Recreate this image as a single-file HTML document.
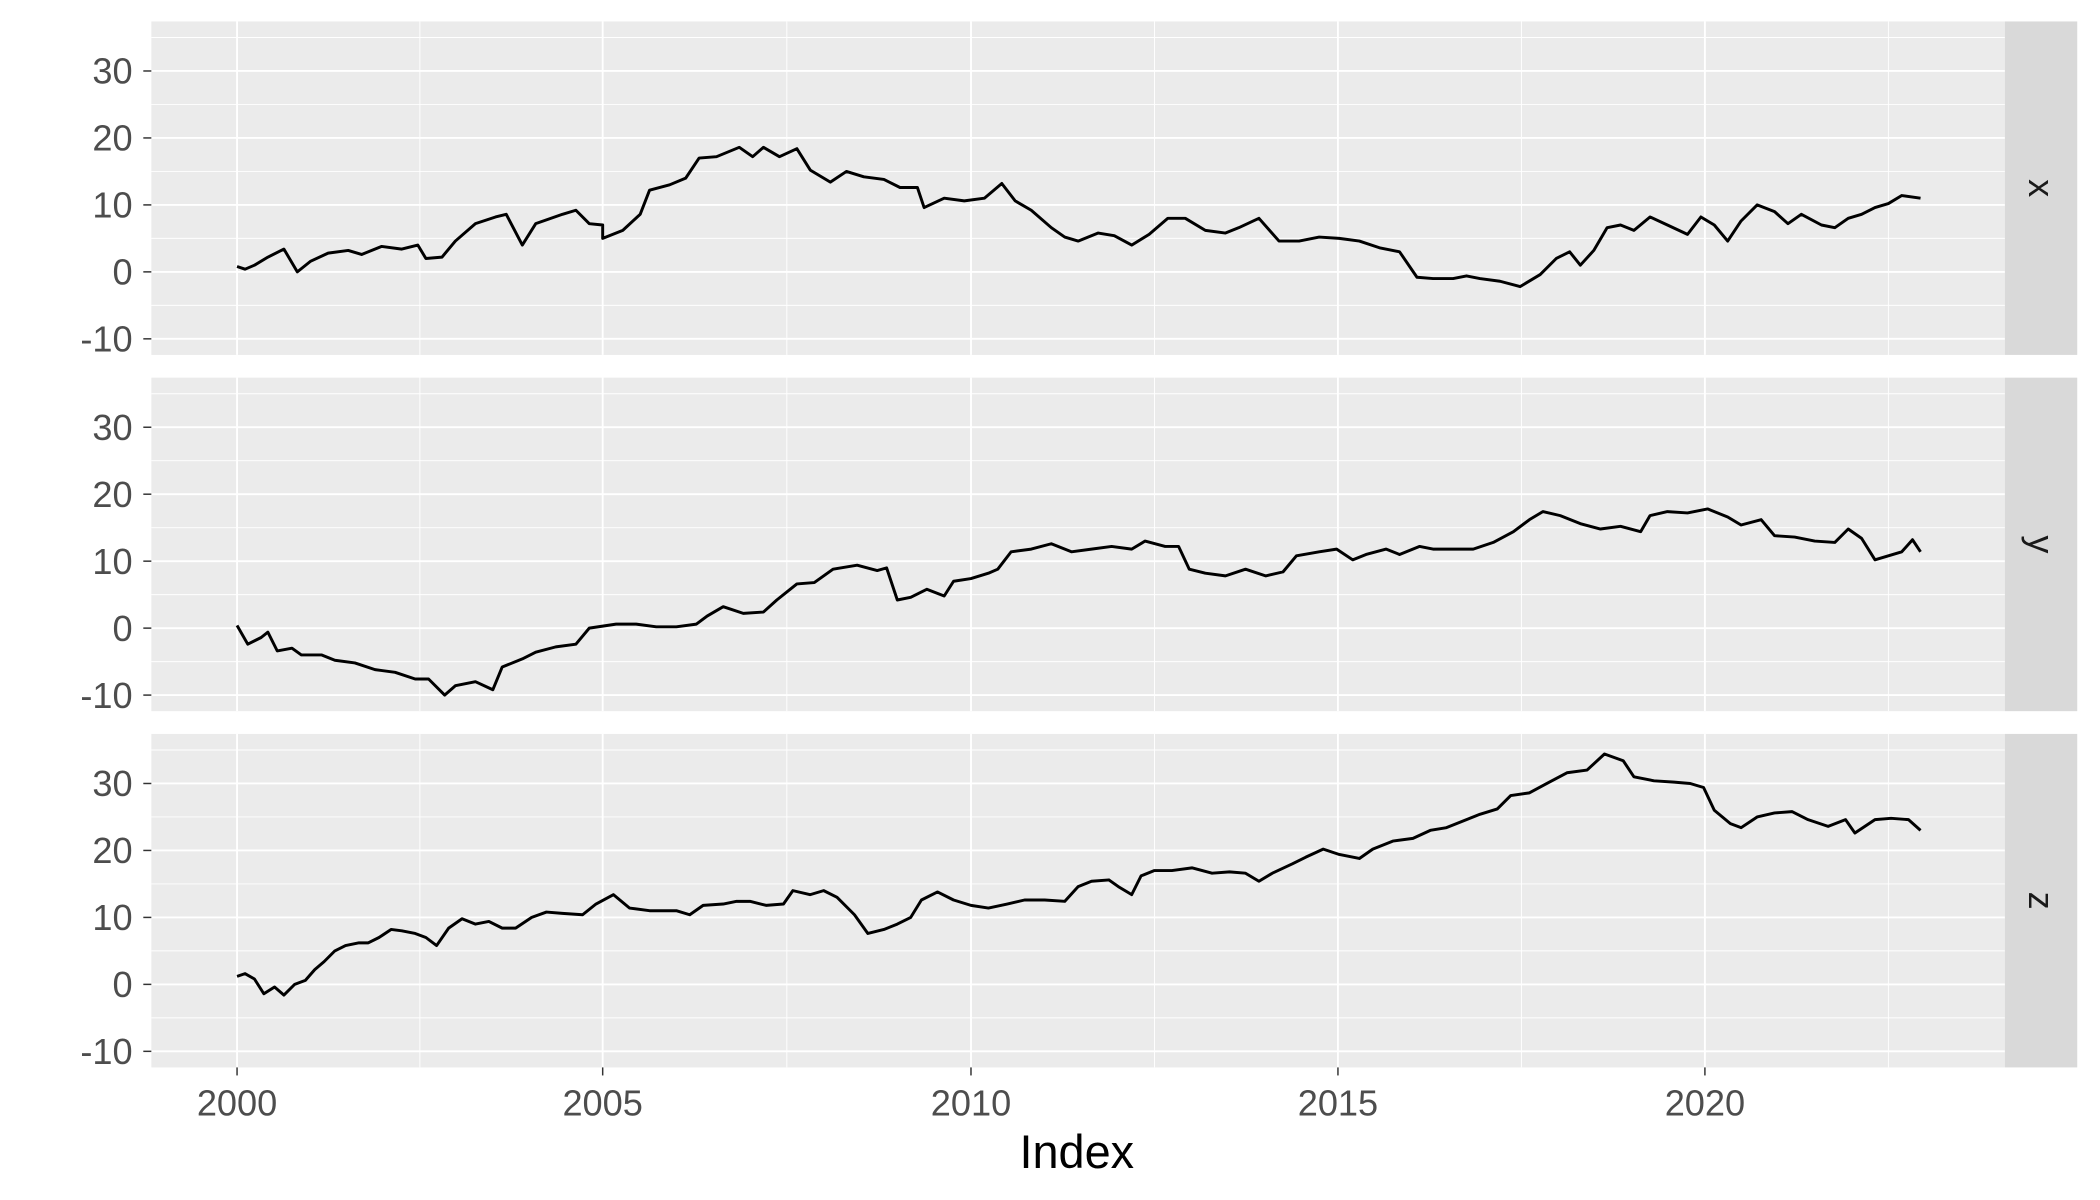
<!DOCTYPE html>
<html><head><meta charset="utf-8"><style>html,body{margin:0;padding:0;background:#fff}svg{display:block}</style></head>
<body>
<svg id="s" width="2100" height="1200" viewBox="0 0 1568 896" xmlns="http://www.w3.org/2000/svg" font-family="Liberation Sans, sans-serif">
</svg>
<script>
const s=document.getElementById('s');
let h='';
const panels=[16,282,548], PH=249, L=113, R=1497;
const xs=[[177,'2000'],[450,'2005'],[725,'2010'],[999,'2015'],[1273,'2020']];
const xm=[313.5,587.5,862,1136,1410];
const labs=['x','y','z'];
panels.forEach((t,i)=>{
  const z=t+187;
  h+=`<rect x="${L}" y="${t}" width="${R-L}" height="${PH}" fill="#ebebeb"/>`;
  for(let v=-15;v<=35;v+=10){const y=z-v*5; if(y>t&&y<t+PH) h+=`<line x1="${L}" x2="${R}" y1="${y}" y2="${y}" stroke="#fff" stroke-width="0.7"/>`;}
  xm.forEach(x=>h+=`<line x1="${x}" x2="${x}" y1="${t}" y2="${t+PH}" stroke="#fff" stroke-width="0.7"/>`);
  for(let v=-10;v<=30;v+=10){const y=z-v*5; h+=`<line x1="${L}" x2="${R}" y1="${y}" y2="${y}" stroke="#fff" stroke-width="1.4"/>`;
    h+=`<line x1="${L-6}" x2="${L}" y1="${y}" y2="${y}" stroke="#333" stroke-width="1.1"/>`;
    h+=`<text x="${L-14}" y="${y+9.5}" text-anchor="end" font-size="27" fill="#4d4d4d">${v}</text>`;}
  xs.forEach(([x])=>h+=`<line x1="${x}" x2="${x}" y1="${t}" y2="${t+PH}" stroke="#fff" stroke-width="1.4"/>`);
  h+=`<rect x="${R}" y="${t}" width="${1551-R}" height="${PH}" fill="#d9d9d9"/>`;
  h+=`<text transform="translate(${1524},${t+PH/2}) rotate(90)" text-anchor="middle" y="9" font-size="27" fill="#1a1a1a">${labs[i]}</text>`;
});
xs.forEach(([x,l])=>{h+=`<line x1="${x}" x2="${x}" y1="797" y2="803" stroke="#333" stroke-width="1.1"/>`;
  h+=`<text x="${x}" y="833" text-anchor="middle" font-size="27" fill="#4d4d4d">${l}</text>`;});
h+=`<text x="804" y="872" text-anchor="middle" font-size="35" fill="#000">Index</text>`;
const X="177,199 183,201 190,198 200,192 212,186 222,203 232,195 245,189 260,187 270,190 285,184 300,186 312,183 318,193 330,192 340,180 355,167 370,162 378,160 390,183 400,167 420,160 430,157 440,167 450,168 450,178 465,172 478,160 485,142 500,138 512,133 522,118 535,117 552,110 562,117 570,110 582,117 595,111 605,127 620,136 632,128 645,132 660,134 672,140 685,140 690,155 705,148 720,150 735,148 748,137 758,150 770,157 785,170 795,177 805,180 820,174 832,176 845,183 858,175 872,163 885,163 900,172 915,174 925,170 940,163 955,180 970,180 985,177 1000,178 1015,180 1030,185 1045,188 1058,207 1070,208 1085,208 1095,206 1105,208 1120,210 1135,214 1150,205 1162,193 1172,188 1180,198 1190,187 1200,170 1210,168 1220,172 1232,162 1245,168 1260,175 1270,162 1280,168 1290,180 1300,165 1312,153 1325,158 1335,167 1345,160 1360,168 1370,170 1380,163 1390,160 1400,155 1410,152 1420,146 1434,148";
const Y="177,467 185,481 195,476 200,472 207,486 218,484 225,489 240,489 250,493 265,495 280,500 295,502 310,507 320,507 332,519 340,512 355,509 368,515 375,498 390,492 400,487 415,483 430,481 440,469 460,466 475,466 490,468 505,468 520,466 528,460 540,453 555,458 570,457 580,448 595,436 608,435 622,425 640,422 655,426 662,424 670,448 680,446 692,440 705,445 712,434 725,432 738,428 745,425 755,412 770,410 785,406 800,412 815,410 830,408 845,410 855,404 870,408 880,408 888,425 900,428 915,430 930,425 945,430 958,427 968,415 985,412 998,410 1010,418 1020,414 1035,410 1045,414 1060,408 1070,410 1085,410 1100,410 1115,405 1130,397 1142,388 1152,382 1165,385 1180,391 1195,395 1210,393 1225,397 1232,385 1245,382 1260,383 1275,380 1290,386 1300,392 1315,388 1325,400 1340,401 1355,404 1370,405 1380,395 1390,402 1400,418 1410,415 1420,412 1428,403 1434,412";
const Z="177,729 183,727 190,731 197,742 205,737 212,743 220,735 228,732 235,724 242,718 250,710 258,706 268,704 275,704 283,700 292,694 300,695 310,697 318,700 326,706 335,693 345,686 355,690 365,688 375,693 385,693 397,685 408,681 420,682 435,683 445,675 458,668 470,678 485,680 505,680 515,683 525,676 540,675 550,673 560,673 572,676 585,675 592,665 605,668 615,665 625,670 638,683 648,697 660,694 670,690 680,685 688,672 700,666 712,672 725,676 738,678 752,675 765,672 780,672 795,673 805,662 815,658 828,657 835,662 845,668 852,654 862,650 875,650 890,648 905,652 918,651 930,652 940,658 950,652 965,645 975,640 988,634 1000,638 1015,641 1025,634 1040,628 1055,626 1068,620 1080,618 1095,612 1105,608 1118,604 1128,594 1142,592 1155,585 1170,577 1185,575 1198,563 1212,568 1220,580 1235,583 1250,584 1262,585 1272,588 1280,605 1292,615 1300,618 1312,610 1325,607 1338,606 1350,612 1365,617 1378,612 1385,622 1400,612 1412,611 1425,612 1434,620";
[X,Y,Z].forEach(p=>h+=`<polyline points="${p}" fill="none" stroke="#000" stroke-width="2.2" stroke-linejoin="round"/>`);
s.innerHTML=h;
</script>
</body></html>
